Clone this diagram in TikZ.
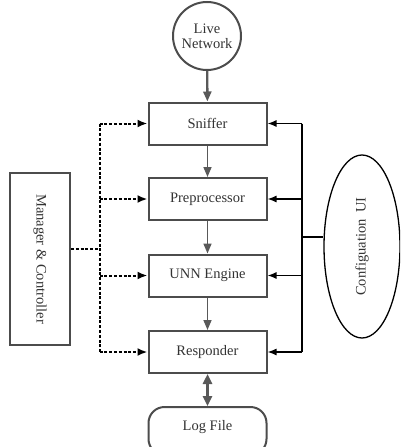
\documentclass[tikz,border=0pt]{standalone}
\usepackage{fontspec}
\setmainfont{Liberation Serif}
\usetikzlibrary{arrows.meta,shapes.geometric}
\begin{document}
\begin{tikzpicture}[x=1pt,y=-1pt,
  font=\fontsize{14.5}{16}\selectfont,
  every node/.style={text=black!80},
  box/.style={draw=black!70,line width=2pt,minimum width=118pt,minimum height=42pt,inner sep=0pt},
  flow/.style={draw=black!65,line width=1.6pt,-{Triangle[length=10pt,width=8pt]}},
  dotarrow/.style={draw=black,line width=2pt,dash pattern=on 3pt off 1.8pt,-{Latex[length=10pt,width=8pt]}},
  dotline/.style={draw=black,line width=2pt,dash pattern=on 3pt off 1.8pt},
  cfgarrow/.style={draw=black,line width=1.4pt,-{Latex[length=9pt,width=7pt]}},
  cfgline/.style={draw=black,line width=1.4pt}]
\useasboundingbox (0,0) rectangle (400,447);
\clip (0,0) rectangle (400,447);

\node[circle,draw=black!70,line width=2pt,minimum size=68pt,inner sep=0pt,align=center] (live) at (207,36) {Live\\[-1pt]Network};
\node[box] (sniffer) at (207.5,123.5) {Sniffer};
\node[box] (pre) at (207.5,199) {Preprocessor};
\node[box] (unn) at (207.5,275.5) {UNN Engine};
\node[box] (resp) at (207.5,352) {Responder};
\node[draw=black!70,line width=2pt,rounded corners=16pt,minimum width=118pt,minimum height=48pt,inner sep=0pt,anchor=north] (log) at (207.5,406) {};
\node at (207.5,427) {Log File};

\node[draw=black!70,line width=2pt,minimum width=60pt,minimum height=172pt,inner sep=0pt] (mgr) at (40,259) {};
\node[rotate=-90] (mgrtext) at (mgr.center) {Manager \& Controller};

\node[ellipse,draw=black,line width=1.3pt,minimum width=76pt,minimum height=183pt,inner sep=0pt] (cfg) at (362,246.5) {};
\node[rotate=90] (cfgtext) at (cfg.center) {Configuation\hspace{0.45em}UI};

% main flow
\draw[flow,line width=2.4pt] (live) -- (sniffer);
\draw[flow] (sniffer) -- (pre);
\draw[flow] (pre) -- (unn);
\draw[flow] (unn) -- (resp);
\draw[draw=black!65,line width=2.4pt,{Triangle[length=10pt,width=9pt]}-{Triangle[length=10pt,width=9pt]}] (resp) -- (log);

% manager bus
\coordinate (lb) at (99.5,0);
\coordinate (mj) at (0,249);
\draw[dotline] (lb |- sniffer) -- (lb |- resp);
\draw[dotline] (mgr.east |- mj) -- (lb |- mj);
\draw[dotarrow] (lb |- sniffer) -- (sniffer.west);
\draw[dotarrow] (lb |- pre) -- (pre.west);
\draw[dotarrow] (lb |- unn) -- (unn.west);
\draw[dotarrow] (lb |- resp) -- (resp.west);

% configuration bus
\coordinate (rb) at (302,0);
\coordinate (cj) at (0,237);
\draw[cfgline] (rb |- sniffer) -- (rb |- resp);
\draw[cfgline] (rb |- cj) -- (cj -| cfg.west);
\draw[cfgarrow] (rb |- sniffer) -- (sniffer.east);
\draw[cfgarrow] (rb |- pre) -- (pre.east);
\draw[cfgarrow] (rb |- unn) -- (unn.east);
\draw[cfgarrow] (rb |- resp) -- (resp.east);
\end{tikzpicture}
\end{document}
